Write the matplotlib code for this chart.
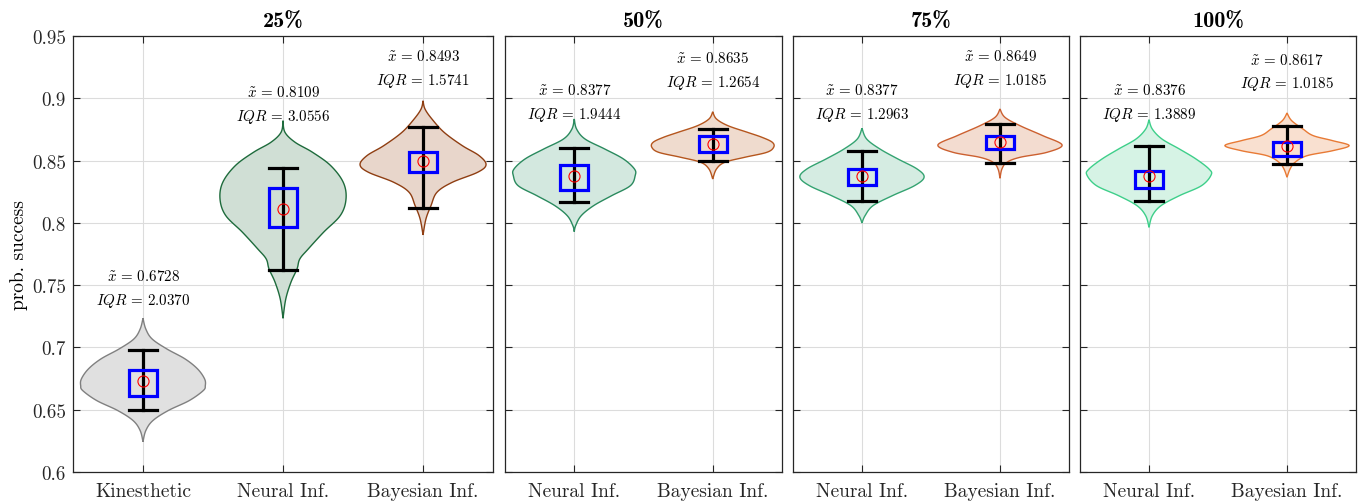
import matplotlib
matplotlib.use("Agg")
import matplotlib.pyplot as plt
import numpy as np

plt.rcParams['font.family'] = 'serif'
plt.rcParams['font.serif'] = ['cmr10']
plt.rcParams['mathtext.fontset'] = 'cm'
plt.rcParams['axes.formatter.use_mathtext'] = True

# panels and groups
panels = ['25%', '50%', '75%', '100%']
groups = [['Kinesthetic', 'Neural Inf.', 'Bayesian Inf.'],
          ['Neural Inf.', 'Bayesian Inf.'],
          ['Neural Inf.', 'Bayesian Inf.'],
          ['Neural Inf.', 'Bayesian Inf.']]

# violin outlines: y values (bottom tip -> top tip) and half widths
kin_y = [0.6243, 0.6332, 0.6412, 0.6493, 0.6573, 0.6653, 0.6693, 0.6747, 0.6827, 0.6908, 0.6988, 0.7068, 0.7148, 0.7234]
kin_w = [0, 0.02, 0.07, 0.18, 0.33, 0.43, 0.445, 0.44, 0.39, 0.30, 0.17, 0.065, 0.02, 0]
n25_y = [0.7234, 0.739, 0.7524, 0.763, 0.771, 0.779, 0.7925, 0.806, 0.8192, 0.8326, 0.846, 0.8567, 0.8647, 0.8727, 0.882]
n25_w = [0, 0.02, 0.057, 0.10, 0.12, 0.18, 0.29, 0.41, 0.45, 0.43, 0.34, 0.21, 0.086, 0.014, 0]
b25_y = [0.7903, 0.8032, 0.8139, 0.8246, 0.8326, 0.8406, 0.8467, 0.854, 0.862, 0.8727, 0.8833, 0.8914, 0.898]
b25_w = [0, 0.021, 0.057, 0.10, 0.21, 0.39, 0.45, 0.40, 0.28, 0.15, 0.064, 0.014, 0]
n50_y = [0.7929, 0.7977, 0.8057, 0.8138, 0.8218, 0.8298, 0.8379, 0.8432, 0.8513, 0.8593, 0.8673, 0.8753, 0.8834]
n50_w = [0, 0.01, 0.05, 0.14, 0.27, 0.405, 0.44, 0.435, 0.355, 0.22, 0.078, 0.017, 0]
b50_y = [0.8352, 0.8432, 0.8486, 0.8526, 0.8566, 0.8607, 0.8647, 0.8687, 0.8727, 0.878, 0.8834, 0.8892]
b50_w = [0, 0.027, 0.087, 0.23, 0.39, 0.44, 0.43, 0.355, 0.25, 0.11, 0.027, 0]
n75_y = [0.7999, 0.8057, 0.8138, 0.8218, 0.8298, 0.8366, 0.8432, 0.8513, 0.8593, 0.8673, 0.8759]
n75_w = [0, 0.022, 0.08, 0.22, 0.38, 0.45, 0.40, 0.26, 0.13, 0.034, 0]
b75_y = [0.8358, 0.8432, 0.8486, 0.8526, 0.8566, 0.8625, 0.87, 0.878, 0.8847, 0.8914]
b75_w = [0, 0.014, 0.05, 0.145, 0.34, 0.45, 0.31, 0.145, 0.036, 0]
n100_y = [0.7964, 0.8057, 0.8138, 0.8218, 0.8298, 0.8384, 0.8432, 0.8513, 0.8593, 0.8673, 0.8753, 0.8828]
n100_w = [0, 0.024, 0.087, 0.22, 0.38, 0.45, 0.435, 0.34, 0.22, 0.094, 0.024, 0]
b100_y = [0.8366, 0.8432, 0.8486, 0.8539, 0.8579, 0.862, 0.866, 0.87, 0.8753, 0.882, 0.8882]
b100_w = [0, 0.022, 0.058, 0.145, 0.33, 0.45, 0.33, 0.19, 0.116, 0.034, 0]

outlines = [[(kin_y, kin_w), (n25_y, n25_w), (b25_y, b25_w)],
            [(n50_y, n50_w), (b50_y, b50_w)],
            [(n75_y, n75_w), (b75_y, b75_w)],
            [(n100_y, n100_w), (b100_y, b100_w)]]

# summary stats per violin
medians = [[0.6728, 0.8109, 0.8493], [0.8377, 0.8635], [0.8377, 0.8649], [0.8376, 0.8617]]
q1 = [[0.6612, 0.7969, 0.8406], [0.8266, 0.8566], [0.8304, 0.8593], [0.8277, 0.8539]]
q3 = [[0.6821, 0.8280, 0.8566], [0.8464, 0.8695], [0.8432, 0.8695], [0.8419, 0.8652]]
whisk_lo = [[0.6498, 0.7619, 0.8117], [0.8170, 0.8494], [0.8173, 0.8478], [0.8175, 0.8470]]
whisk_hi = [[0.6979, 0.8438, 0.8767], [0.8598, 0.8753], [0.8579, 0.8794], [0.8620, 0.8775]]
iqr_txt = [['2.0370', '3.0556', '1.5741'], ['1.9444', '1.2654'], ['1.2963', '1.0185'], ['1.3889', '1.0185']]
med_txt = [['0.6728', '0.8109', '0.8493'], ['0.8377', '0.8635'], ['0.8377', '0.8649'], ['0.8376', '0.8617']]
label_y = [[0.7381, 0.8858, 0.9147], [0.8874, 0.9133], [0.8874, 0.9149], [0.8874, 0.9120]]

face_cols = [['#e0e0e0', '#d0dfd5', '#e8d6cb'], ['#d3e8df', '#efdbce'],
             ['#d5ece2', '#f3dcd0'], ['#d6f3e5', '#f9e0d0']]
edge_cols = [['#808080', '#1e6b3c', '#8f3e12'], ['#2a8a5e', '#b5561e'],
             ['#34a371', '#cc6030'], ['#3ecf8a', '#e87a35']]


def smooth(y, w, n=10):
    # catmull-rom through the read points, only for drawing a smooth outline
    pts = np.column_stack([y, w])
    p = np.vstack([pts[0], pts, pts[-1]])
    t = np.linspace(0, 1, n, endpoint=False)[:, None]
    out = []
    for i in range(1, len(p) - 2):
        p0, p1, p2, p3 = p[i - 1], p[i], p[i + 1], p[i + 2]
        out.append(0.5 * (2 * p1 + (-p0 + p2) * t + (2 * p0 - 5 * p1 + 4 * p2 - p3) * t ** 2
                          + (-p0 + 3 * p1 - 3 * p2 + p3) * t ** 3))
    out.append(pts[-1:])
    s = np.vstack(out)
    return s[:, 0], np.clip(s[:, 1], 0, None)


fig = plt.figure(figsize=(13.59, 5.02), dpi=100)
lefts = [0.0537, 0.3716, 0.5835, 0.7947]
widths = [0.3091, 0.2038, 0.2031, 0.2031]

for k in range(4):
    ax = fig.add_axes([lefts[k], 0.0578, widths[k], 0.8685])
    n = len(groups[k])
    for i in range(n):
        x0 = i + 1
        yy, ww = smooth(*outlines[k][i])
        xs = np.concatenate([x0 + ww, (x0 - ww)[::-1]])
        ys = np.concatenate([yy, yy[::-1]])
        ax.fill(xs, ys, facecolor=face_cols[k][i], edgecolor=edge_cols[k][i], lw=1, zorder=2)
        # whiskers
        ax.plot([x0, x0], [whisk_lo[k][i], whisk_hi[k][i]], color='black', lw=2.3, zorder=3)
        for v in (whisk_lo[k][i], whisk_hi[k][i]):
            ax.plot([x0 - 0.1, x0 + 0.1], [v, v], color='black', lw=2.3, zorder=3)
        # IQR box
        ax.add_patch(plt.Rectangle((x0 - 0.1, q1[k][i]), 0.2, q3[k][i] - q1[k][i],
                                   fill=False, edgecolor='#0000ff', lw=2.3, zorder=4))
        ax.plot(x0, medians[k][i], 'o', mfc='none', mec='red', ms=8, mew=0.8, zorder=5)
        ax.text(x0, label_y[k][i] + 0.0195, r'$\tilde{x}\,=\,' + med_txt[k][i] + '$',
                ha='center', va='center', fontsize=10.8)
        ax.text(x0, label_y[k][i], r'$IQR\,=\,' + iqr_txt[k][i] + '$',
                ha='center', va='center', fontsize=10.8)

    ax.set_xlim(0.5, n + 0.5)
    ax.set_ylim(0.6, 0.95)
    ax.set_xticks(range(1, n + 1))
    ax.set_xticklabels(groups[k], fontsize=14)
    ax.set_yticks(np.arange(0.6, 0.951, 0.05))
    if k == 0:
        ax.set_yticklabels(['0.6', '0.65', '0.7', '0.75', '0.8', '0.85', '0.9', '0.95'], fontsize=13.7)
        ax.set_ylabel('prob. success', fontsize=14, labelpad=3)
    else:
        ax.set_yticklabels([])
    ax.tick_params(direction='in', top=True, right=True, length=5, width=0.8, colors='#262626', pad=5)
    ax.tick_params(axis='x', pad=7)
    ax.grid(True, color='#dcdcdc', lw=0.8, zorder=0)
    ax.set_axisbelow(True)
    for s in ax.spines.values():
        s.set_color('#262626')
        s.set_linewidth(0.9)
    ax.set_title(panels[k], fontsize=16, family='cmb10', pad=7)

fig.savefig('out.png', dpi=100)
